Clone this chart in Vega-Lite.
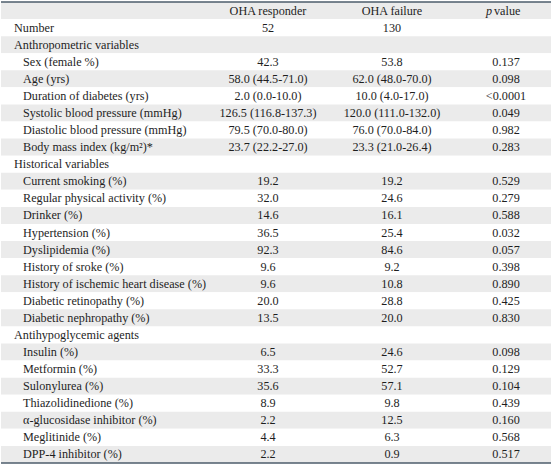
{
  "$schema": "https://vega.github.io/schema/vega-lite/v6.json",
  "width": 552,
  "height": 466,
  "padding": 0,
  "autosize": {"type": "fit", "contains": "padding"},
  "background": "white",
  "config": {"view": {"stroke": null}, "text": {"font": "Liberation Serif", "fontSize": 12.2, "color": "#1e1e1e"}},
  "datasets": {
    "rows": [
      {"r": 0, "level": -1, "label": "", "resp": "OHA responder", "fail": "OHA failure", "p": ""},
      {"r": 1, "level": 0, "label": "Number", "resp": "52", "fail": "130", "p": ""},
      {"r": 2, "level": 0, "label": "Anthropometric variables", "resp": "", "fail": "", "p": ""},
      {"r": 3, "level": 1, "label": "Sex (female %)", "resp": "42.3", "fail": "53.8", "p": "0.137"},
      {"r": 4, "level": 1, "label": "Age (yrs)", "resp": "58.0 (44.5-71.0)", "fail": "62.0 (48.0-70.0)", "p": "0.098"},
      {"r": 5, "level": 1, "label": "Duration of diabetes (yrs)", "resp": "2.0 (0.0-10.0)", "fail": "10.0 (4.0-17.0)", "p": "<0.0001"},
      {"r": 6, "level": 1, "label": "Systolic blood pressure (mmHg)", "resp": "126.5 (116.8-137.3)", "fail": "120.0 (111.0-132.0)", "p": "0.049"},
      {"r": 7, "level": 1, "label": "Diastolic blood pressure (mmHg)", "resp": "79.5 (70.0-80.0)", "fail": "76.0 (70.0-84.0)", "p": "0.982"},
      {"r": 8, "level": 1, "label": "Body mass index (kg/m²)*", "resp": "23.7 (22.2-27.0)", "fail": "23.3 (21.0-26.4)", "p": "0.283"},
      {"r": 9, "level": 0, "label": "Historical variables", "resp": "", "fail": "", "p": ""},
      {"r": 10, "level": 1, "label": "Current smoking (%)", "resp": "19.2", "fail": "19.2", "p": "0.529"},
      {"r": 11, "level": 1, "label": "Regular physical activity (%)", "resp": "32.0", "fail": "24.6", "p": "0.279"},
      {"r": 12, "level": 1, "label": "Drinker (%)", "resp": "14.6", "fail": "16.1", "p": "0.588"},
      {"r": 13, "level": 1, "label": "Hypertension (%)", "resp": "36.5", "fail": "25.4", "p": "0.032"},
      {"r": 14, "level": 1, "label": "Dyslipidemia (%)", "resp": "92.3", "fail": "84.6", "p": "0.057"},
      {"r": 15, "level": 1, "label": "History of sroke (%)", "resp": "9.6", "fail": "9.2", "p": "0.398"},
      {"r": 16, "level": 1, "label": "History of ischemic heart disease (%)", "resp": "9.6", "fail": "10.8", "p": "0.890"},
      {"r": 17, "level": 1, "label": "Diabetic retinopathy (%)", "resp": "20.0", "fail": "28.8", "p": "0.425"},
      {"r": 18, "level": 1, "label": "Diabetic nephropathy (%)", "resp": "13.5", "fail": "20.0", "p": "0.830"},
      {"r": 19, "level": 0, "label": "Antihypoglycemic agents", "resp": "", "fail": "", "p": ""},
      {"r": 20, "level": 1, "label": "Insulin (%)", "resp": "6.5", "fail": "24.6", "p": "0.098"},
      {"r": 21, "level": 1, "label": "Metformin (%)", "resp": "33.3", "fail": "52.7", "p": "0.129"},
      {"r": 22, "level": 1, "label": "Sulonylurea (%)", "resp": "35.6", "fail": "57.1", "p": "0.104"},
      {"r": 23, "level": 1, "label": "Thiazolidinedione (%)", "resp": "8.9", "fail": "9.8", "p": "0.439"},
      {"r": 24, "level": 1, "label": "α-glucosidase inhibitor (%)", "resp": "2.2", "fail": "12.5", "p": "0.160"},
      {"r": 25, "level": 1, "label": "Meglitinide (%)", "resp": "4.4", "fail": "6.3", "p": "0.568"},
      {"r": 26, "level": 1, "label": "DPP-4 inhibitor (%)", "resp": "2.2", "fail": "0.9", "p": "0.517"}
    ]
  },
  "data": {"name": "rows"},
  "encoding": {
    "y": {"field": "r", "type": "ordinal", "axis": null,
          "scale": {"paddingInner": 0, "paddingOuter": 0, "range": [2, 463]}}
  },
  "layer": [
    {
      "mark": {"type": "rect"},
      "encoding": {
        "x": {"value": 0},
        "x2": {"value": {"expr": "width"}},
        "fill": {"condition": {"test": "datum.r % 2 == 0", "value": "#ebebeb"}, "value": "#ffffff"}
      }
    },
    {
      "transform": [{"filter": "datum.r == 0"}],
      "mark": {"type": "rule", "color": "#4d5d6b", "strokeWidth": 1.5},
      "encoding": {
        "y": {"field": "r", "type": "ordinal", "bandPosition": 0}
      }
    },
    {
      "transform": [{"filter": "datum.r == 26"}],
      "mark": {"type": "rule", "color": "#4d5d6b", "strokeWidth": 1.5},
      "encoding": {
        "y": {"field": "r", "type": "ordinal", "bandPosition": 1}
      }
    },
    {
      "transform": [{"filter": "datum.level == 0"}],
      "mark": {"type": "text", "align": "left", "baseline": "middle"},
      "encoding": {
        "x": {"datum": 0, "type": "quantitative", "axis": null,
              "scale": {"type": "linear", "domain": [0, 1, 2, 3], "range": [13, 267, 391, 505], "nice": false, "zero": false}},
        "text": {"field": "label"}
      }
    },
    {
      "transform": [{"filter": "datum.level == 1"}],
      "mark": {"type": "text", "align": "left", "baseline": "middle", "dx": 9},
      "encoding": {
        "x": {"datum": 0, "type": "quantitative"},
        "text": {"field": "label"}
      }
    },
    {
      "mark": {"type": "text", "align": "center", "baseline": "middle"},
      "encoding": {
        "x": {"datum": 1, "type": "quantitative"},
        "text": {"field": "resp"}
      }
    },
    {
      "mark": {"type": "text", "align": "center", "baseline": "middle"},
      "encoding": {
        "x": {"datum": 2, "type": "quantitative"},
        "text": {"field": "fail"}
      }
    },
    {
      "mark": {"type": "text", "align": "center", "baseline": "middle"},
      "encoding": {
        "x": {"datum": 3, "type": "quantitative"},
        "text": {"field": "p"}
      }
    },
    {
      "transform": [{"filter": "datum.r == 0"}],
      "mark": {"type": "text", "align": "right", "baseline": "middle", "fontStyle": "italic", "dx": -14},
      "encoding": {
        "x": {"datum": 3, "type": "quantitative"},
        "text": {"value": "p"}
      }
    },
    {
      "transform": [{"filter": "datum.r == 0"}],
      "mark": {"type": "text", "align": "left", "baseline": "middle", "dx": -12},
      "encoding": {
        "x": {"datum": 3, "type": "quantitative"},
        "text": {"value": "value"}
      }
    }
  ]
}
